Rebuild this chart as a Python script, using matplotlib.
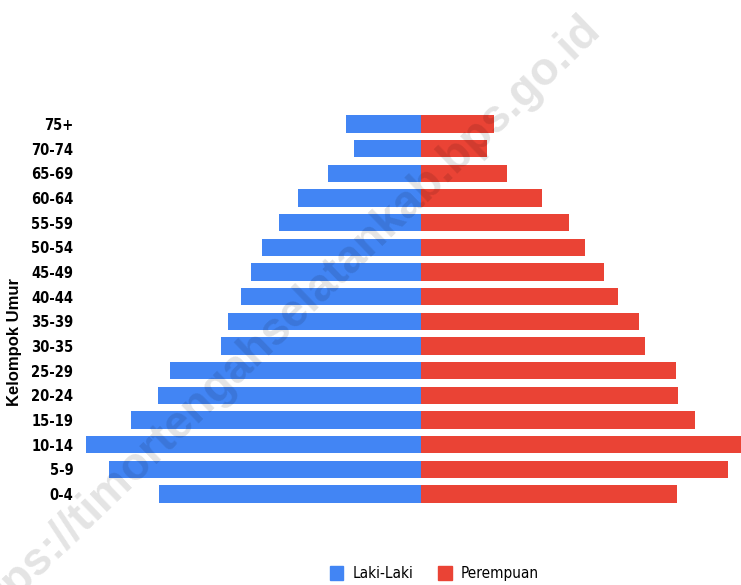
import matplotlib.pyplot as plt
import numpy as np
from matplotlib.patches import Patch

# age groups from bottom to top
age_groups = ["0-4", "5-9", "10-14", "15-19", "20-24", "25-29", "30-35", "35-39",
              "40-44", "45-49", "50-54", "55-59", "60-64", "65-69", "70-74", "75+"]
laki = [262, 312, 335, 290, 263, 251, 200, 193, 180, 170, 159, 142, 123, 93, 67, 75]
perempuan = [256, 307, 320, 274, 257, 255, 224, 218, 197, 183, 164, 148, 121, 86, 66, 73]

blue = "#4285F4"
red = "#EA4335"
narrow = ["DejaVu Sans"]

fig = plt.figure(figsize=(7.41, 5.85), dpi=100)
ax = fig.add_axes([86 / 741, 0.1345, 655 / 741, 0.6745])

y = np.arange(len(age_groups))
ax.barh(y, [-v for v in laki], height=0.7, color=blue)
ax.barh(y, perempuan, height=0.7, color=red)

ax.set_xlim(-335, 320)
ax.set_ylim(-0.5, len(age_groups) - 0.5)
ax.set_xticks([])
ax.set_yticks(y)
ax.set_yticklabels(age_groups, family=narrow, fontstretch="condensed",
                   fontweight="bold", fontsize=10.5)
ax.tick_params(axis="y", length=0, pad=9)
for s in ax.spines.values():
    s.set_visible(False)

fig.text(0.019, 0.415, "Kelompok Umur", rotation=90, ha="center", va="center",
         family=["Liberation Sans", "DejaVu Sans"], fontweight="bold", fontsize=12)

handles = [Patch(color=blue, label="Laki-Laki"), Patch(color=red, label="Perempuan")]
leg = fig.legend(handles=handles, loc="center", bbox_to_anchor=(0.586, 0.02), ncol=2,
                 frameon=False, handlelength=0.9, handleheight=1.1, columnspacing=1.6,
                 handletextpad=0.6,
                 prop={"family": narrow, "stretch": "condensed", "size": 11})

# watermark
fig.text(594 / 741, 1 - 22 / 585, "https://timortengahselatankab.bps.go.id",
         rotation=44, rotation_mode="anchor", ha="right", va="center",
         fontsize=33, fontweight="bold", color="black", alpha=0.11,
         family=["Liberation Sans", "DejaVu Sans"])

fig.savefig("out.png", dpi=100)
